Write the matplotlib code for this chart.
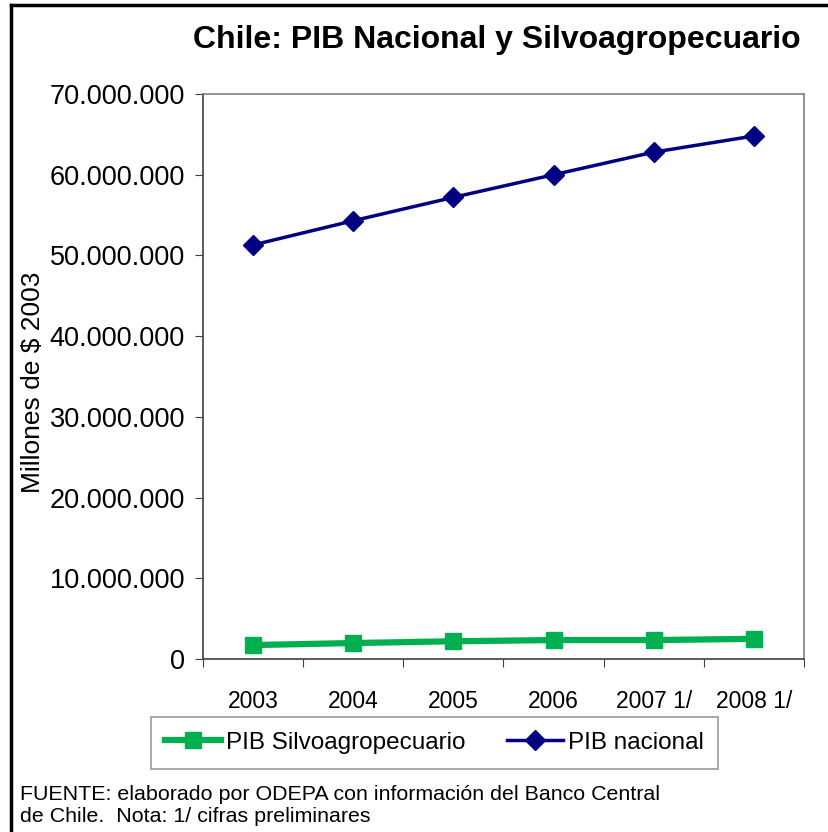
import matplotlib
matplotlib.use("Agg")
import matplotlib.pyplot as plt
from matplotlib.lines import Line2D
from matplotlib.ticker import FuncFormatter, FixedLocator, NullFormatter

plt.rcParams['font.family'] = ['Liberation Sans', 'DejaVu Sans']

# Data (millones de $ 2003)
years = ['2003', '2004', '2005', '2006', '2007 1/', '2008 1/']
pib_silvo = [1730000, 1980000, 2200000, 2350000, 2350000, 2500000]
pib_nacional = [51300000, 54300000, 57200000, 60000000, 62800000, 64800000]

fig = plt.figure(figsize=(8.29, 8.32), dpi=100)
ax = fig.add_axes([0.2449, 0.2079, 0.7249, 0.6791])

x = list(range(len(years)))
ax.plot(x, pib_silvo, color='#00B050', lw=4.5, marker='s', ms=12,
        label='PIB Silvoagropecuario')
ax.plot(x, pib_nacional, color='#000080', lw=2.5, marker='D', ms=10,
        label='PIB nacional')

ax.set_xlim(-0.5, len(years) - 0.5)
ax.set_ylim(0, 70000000)
ax.set_yticks(range(0, 70000001, 10000000))
ax.yaxis.set_major_formatter(FuncFormatter(lambda v, p: f"{int(v):,}".replace(",", ".")))

# category axis: ticks between categories, labels centred
ax.xaxis.set_major_locator(FixedLocator([i - 0.5 for i in range(len(years) + 1)]))
ax.xaxis.set_major_formatter(NullFormatter())
ax.xaxis.set_minor_locator(FixedLocator(x))
ax.set_xticklabels(years, minor=True)
ax.tick_params(axis='x', which='minor', length=0, labelsize=16.5, pad=22)
ax.tick_params(axis='x', which='major', length=6, color='#404040')
ax.tick_params(axis='y', labelsize=19.5, length=6, color='#404040', pad=7)

for s in ['top', 'right']:
    ax.spines[s].set_color('#808080')
    ax.spines[s].set_linewidth(1.2)
for s in ['left', 'bottom']:
    ax.spines[s].set_color('#404040')
    ax.spines[s].set_linewidth(1.2)

fig.text(33 / 829, 0.541, 'Millones de $ 2003', fontsize=19, rotation=90,
         ha='center', va='center')

fig.text(0.599, 0.952, 'Chile: PIB Nacional y Silvoagropecuario',
         fontsize=23, fontweight='bold', ha='center', va='center')

leg = fig.legend(loc='center', bbox_to_anchor=(0.524, 0.107), ncol=2,
                 fontsize=17.5, frameon=True, fancybox=False, edgecolor='#808080',
                 handlelength=2.3, columnspacing=1.7, borderpad=0.6,
                 handletextpad=0.2)
leg.get_frame().set_linewidth(1.2)

fig.text(0.024, 0.032, 'FUENTE: elaborado por ODEPA con información del Banco Central\n'
         'de Chile.  Nota: 1/ cifras preliminares',
         fontsize=15.4, ha='left', va='center', linespacing=1.2)

# outer frame (left and top edges visible)
fig.add_artist(Line2D([11 / 829, 11 / 829], [0, 1 - 5 / 832], color='black', lw=2.5,
                      transform=fig.transFigure))
fig.add_artist(Line2D([11 / 829, 1], [1 - 5 / 832, 1 - 5 / 832], color='black', lw=2.5,
                      transform=fig.transFigure))

fig.savefig('out.png', dpi=100)
